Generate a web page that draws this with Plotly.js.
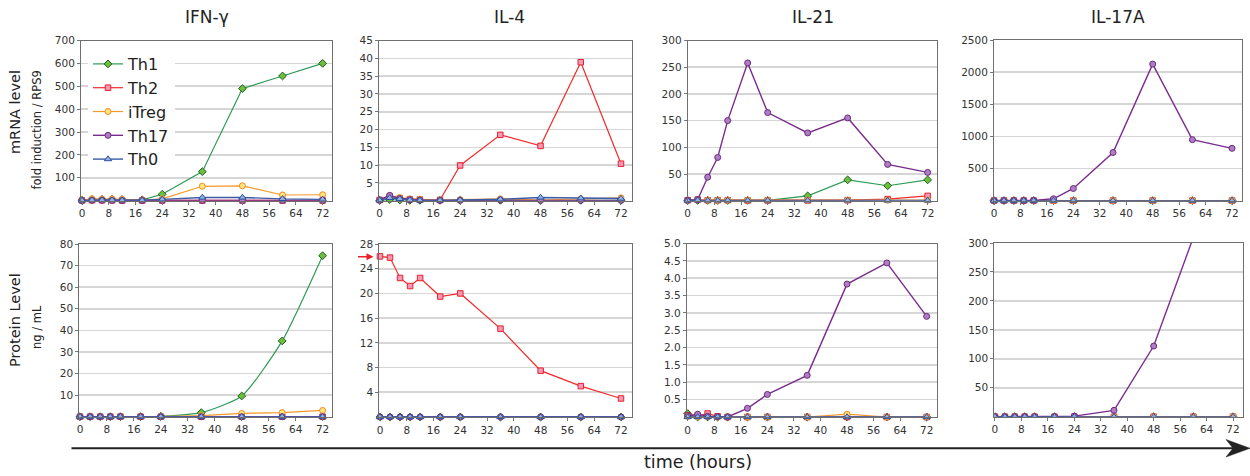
<!DOCTYPE html>
<html>
<head>
<meta charset="utf-8">
<script src="https://cdn.plot.ly/plotly-3.0.1.min.js"></script>
<style>html,body{margin:0;padding:0;background:#fff;}#chart{width:1250px;height:476px;}</style>
</head>
<body>
<div id="chart"></div>
<script>
// ---------- DATA ----------
const times = [0, 3, 6, 9, 12, 18, 24, 36, 48, 60, 72];
const seriesNames = ["Th1", "Th2", "iTreg", "Th17", "Th0"];
const geneTitles = ["IFN-γ", "IL-4", "IL-21", "IL-17A"];
const xTicks = [0, 8, 16, 24, 32, 40, 48, 56, 64, 72];

// mRNA level (fold induction / RPS9)
const ifngMrnaTh1   = [2, 6, 6, 7, 5, 4, 28, 127, 490, 545, 600];
const ifngMrnaTh2   = [1, 2, 2, 2, 1, 1, 1, 1, 1, 1, 1];
const ifngMrnaITreg = [3, 8, 7, 8, 6, 3, 8, 63, 65, 25, 26];
const ifngMrnaTh17  = [1, 2, 2, 1, 1, 1, 1, 1, 1, 1, 1];
const ifngMrnaTh0   = [1, 3, 3, 3, 2, 2, 6, 14, 14, 8, 6];

const il4MrnaTh1   = [0.1, 0.3, 0.2, 0.1, 0.1, 0.1, 0.1, 0.1, 0.1, 0.1, 0.1];
const il4MrnaTh2   = [0.2, 1.2, 0.7, 0.4, 0.3, 0.2, 9.9, 18.5, 15.4, 38.9, 10.4];
const il4MrnaITreg = [0.2, 1.3, 0.9, 0.5, 0.4, 0.2, 0.3, 0.5, 0.2, 0.5, 0.8];
const il4MrnaTh17  = [0.2, 1.5, 0.6, 0.3, 0.2, 0.1, 0.1, 0.2, 0.1, 0.1, 0.1];
const il4MrnaTh0   = [0.1, 0.8, 0.5, 0.2, 0.1, 0.1, 0.2, 0.4, 0.9, 0.7, 0.6];

const il21MrnaTh1   = [0.5, 0.5, 0.5, 0.5, 0.5, 0.5, 0.5, 9, 39, 28, 39];
const il21MrnaTh2   = [1, 2, 1, 1, 1, 0.5, 0.5, 0.5, 1, 3, 9];
const il21MrnaITreg = [1, 2, 1, 1, 1, 1, 1, 1, 1, 1, 1];
const il21MrnaTh17  = [1, 2, 44, 81, 150, 258, 165, 127, 155, 68, 53];
const il21MrnaTh0   = [0.5, 1, 0.5, 0.5, 0.5, 0.5, 0.5, 0.5, 0.5, 0.5, 0.5];

const il17MrnaTh1   = [2, 2, 2, 2, 2, 2, 2, 2, 2, 2, 2];
const il17MrnaTh2   = [2, 3, 2, 2, 2, 2, 2, 2, 2, 2, 2];
const il17MrnaITreg = [3, 3, 3, 3, 3, 3, 3, 3, 3, 3, 3];
const il17MrnaTh17  = [2, 2, 3, 3, 5, 30, 190, 750, 2125, 950, 815];
const il17MrnaTh0   = [1, 1, 1, 1, 1, 1, 1, 1, 1, 1, 1];

// Protein level (ng / mL)
const ifngProtTh1   = [0, 0, 0, 0, 0, 0, 0.2, 1.9, 9.6, 35.1, 74.6];
const ifngProtTh2   = [0, 0, 0, 0, 0, 0, 0, 0, 0, 0, 0];
const ifngProtITreg = [0, 0, 0, 0, 0, 0, 0.1, 0.5, 1.5, 1.9, 2.9];
const ifngProtTh17  = [0, 0, 0, 0, 0, 0, 0, 0, 0, 0, 0];
const ifngProtTh0   = [0, 0, 0, 0, 0, 0, 0, 0, 0, 0, 0];

const il4ProtTh1   = [0, 0, 0, 0, 0, 0, 0, 0, 0, 0, 0];
const il4ProtTh2   = [26, 25.8, 22.5, 21.2, 22.5, 19.5, 20, 14.3, 7.5, 5, 3];
const il4ProtITreg = [0, 0, 0, 0, 0, 0, 0, 0, 0, 0, 0];
const il4ProtTh17  = [0, 0, 0, 0, 0, 0, 0, 0, 0, 0, 0];
const il4ProtTh0   = [0, 0, 0, 0, 0, 0, 0, 0, 0, 0, 0];

const il21ProtTh1   = [0.1, 0, 0, 0, 0, 0, 0, 0, 0, 0, 0];
const il21ProtTh2   = [0.05, 0.03, 0.1, 0.02, 0, 0, 0, 0, 0, 0, 0];
const il21ProtITreg = [0.02, 0.01, 0.01, 0, 0, 0, 0, 0, 0.08, 0, 0];
const il21ProtTh17  = [0.03, 0.08, 0.02, 0.01, 0, 0.25, 0.65, 1.2, 3.83, 4.44, 2.9];
const il21ProtTh0   = [0, 0, 0, 0, 0, 0, 0, 0, 0, 0, 0];

const il17ProtTh1   = [0, 0, 0, 0, 0, 0, 0, 0, 0, 0, 0];
const il17ProtTh2   = [0, 0, 0, 0, 0, 0, 0, 0, 0, 0, 0];
const il17ProtITreg = [0, 0, 0, 0, 0, 0, 0, 0, 0, 0, 0];
const il17ProtTh17  = [0, 0, 0, 0, 0, 0, 1, 11, 122, 310, 450];
const il17ProtTh0   = [0, 0, 0, 0, 0, 0, 0, 0, 0, 0, 0];

// y tick labels
const ticksIfngMrna = [100, 200, 300, 400, 500, 600, 700];
const ticksIl4Mrna  = [5, 10, 15, 20, 25, 30, 35, 40, 45];
const ticksIl21Mrna = [50, 100, 150, 200, 250, 300];
const ticksIl17Mrna = [500, 1000, 1500, 2000, 2500];
const ticksIfngProt = [10, 20, 30, 40, 50, 60, 70, 80];
const ticksIl4Prot  = [4, 8, 12, 16, 20, 24, 28];
const ticksIl21Prot = [0.5, 1.0, 1.5, 2.0, 2.5, 3.0, 3.5, 4.0, 4.5, 5.0];
const ticksIl17Prot = [50, 100, 150, 200, 250, 300];

// ---------- STYLE ----------
const W = 1250, H = 476;
const FONT = "DejaVu Sans, Verdana, sans-serif";
const styles = [
  {line: "#2e9a57", fill: "#6cbf3c", edge: "#1f5f1f", symbol: "diamond", size: 6},
  {line: "#f22a2a", fill: "#f598b8", edge: "#e8202a", symbol: "square", size: 5.5},
  {line: "#f59a2a", fill: "#ffe680", edge: "#f5891f", symbol: "circle", size: 6},
  {line: "#7b2d8e", fill: "#b07cc6", edge: "#6a2a7a", symbol: "circle", size: 6},
  {line: "#3a5ba8", fill: "#8fb4e3", edge: "#2f4f9f", symbol: "triangle-up", size: 6.5}
];

const panels = [
  {box: [81, 40.5, 332, 200.7], xr: [-0.3, 74.8], yr: [0, 700], yt: ticksIfngMrna, fmt: "",
   s: [ifngMrnaTh1, ifngMrnaTh2, ifngMrnaITreg, ifngMrnaTh17, ifngMrnaTh0]},
  {box: [379, 40.5, 631.7, 200.7], xr: [-0.2, 75.2], yr: [0, 45], yt: ticksIl4Mrna, fmt: "",
   s: [il4MrnaTh1, il4MrnaTh2, il4MrnaITreg, il4MrnaTh17, il4MrnaTh0]},
  {box: [687.7, 40.5, 937.3, 200.7], xr: [0, 74.9], yr: [0, 300], yt: ticksIl21Mrna, fmt: "",
   s: [il21MrnaTh1, il21MrnaTh2, il21MrnaITreg, il21MrnaTh17, il21MrnaTh0]},
  {box: [994, 40, 1242.3, 200.7], xr: [0, 75.1], yr: [0, 2500], yt: ticksIl17Mrna, fmt: "",
   s: [il17MrnaTh1, il17MrnaTh2, il17MrnaITreg, il17MrnaTh17, il17MrnaTh0]},
  {box: [79.3, 244, 331.7, 416.7], xr: [-0.2, 74.7], yr: [0, 80], yt: ticksIfngProt, fmt: "", spline: true,
   s: [ifngProtTh1, ifngProtTh2, ifngProtITreg, ifngProtTh17, ifngProtTh0]},
  {box: [379.3, 244, 631.7, 417], xr: [-0.2, 75.2], yr: [0, 28], yt: ticksIl4Prot, fmt: "",
   s: [il4ProtTh1, il4ProtTh2, il4ProtITreg, il4ProtTh17, il4ProtTh0]},
  {box: [686.7, 243.5, 937.3, 417], xr: [-0.3, 75.2], yr: [0, 5], yt: ticksIl21Prot, fmt: ".1f",
   s: [il21ProtTh1, il21ProtTh2, il21ProtITreg, il21ProtTh17, il21ProtTh0]},
  {box: [994.3, 243, 1243.3, 416.7], xr: [-0.2, 75.1], yr: [0, 300], yt: ticksIl17Prot, fmt: "", clip: true,
   s: [il17ProtTh1, il17ProtTh2, il17ProtITreg, il17ProtTh17, il17ProtTh0]}
];

const px = v => v / W;
const py = v => 1 - v / H;

const traces = [];
const layout = {
  width: W, height: H,
  margin: {l: 0, r: 0, t: 0, b: 0},
  paper_bgcolor: "#fff", plot_bgcolor: "#fff",
  font: {family: FONT, color: "#333", size: 10.5},
  showlegend: true,
  legend: {
    x: px(88), y: py(47), xanchor: "left", yanchor: "top",
    bgcolor: "#fff", borderwidth: 0,
    font: {family: FONT, size: 16, color: "#222"},
    tracegroupgap: 0, itemwidth: 30
  },
  annotations: [], shapes: []
};

panels.forEach((p, i) => {
  const k = i + 1;
  const xa = "xaxis" + (k === 1 ? "" : k), ya = "yaxis" + (k === 1 ? "" : k);
  const [l, t, r, b] = p.box;
  layout[xa] = {
    domain: [px(l), px(r)], range: p.xr, anchor: "y" + k,
    tickvals: xTicks, ticks: "outside", ticklen: 3, tickcolor: "#777",
    showgrid: false, zeroline: false,
    showline: true, mirror: true, linecolor: "#6f6f6f", linewidth: 1,
    tickfont: {family: FONT, size: 10.5, color: "#333"}, fixedrange: true
  };
  layout[ya] = {
    domain: [py(b), py(t)], range: p.yr, anchor: "x" + k,
    tickvals: p.yt, tickformat: p.fmt, ticks: "outside", ticklen: 3, tickcolor: "#777",
    showgrid: true, gridcolor: "#d6d6d6", gridwidth: 1.6, zeroline: false,
    showline: true, mirror: true, linecolor: "#6f6f6f", linewidth: 1,
    tickfont: {family: FONT, size: 10.5, color: "#333"}, fixedrange: true
  };
  p.s.forEach((vals, j) => {
    const st = styles[j];
    traces.push({
      type: "scatter", mode: "lines+markers",
      x: times, y: vals,
      xaxis: "x" + k, yaxis: "y" + k,
      name: seriesNames[j], legendgroup: seriesNames[j],
      showlegend: i === 0,
      cliponaxis: !!p.clip,
      line: {color: st.line, width: (j >= 3 ? 1.4 : 1.2), shape: (p.spline && j === 0) ? "spline" : "linear", smoothing: 0.6},
      marker: {symbol: st.symbol, size: st.size, color: st.fill, line: {color: st.edge, width: 1}}
    });
  });
  if (i < 4) {
    const cx = i === 1 ? 510 : (l + r) / 2;
    layout.annotations.push({
      xref: "paper", yref: "paper", x: px(cx), y: py(17), xanchor: "center", yanchor: "middle",
      text: geneTitles[i], showarrow: false, font: {family: FONT, size: 17, color: "#222"}
    });
  }
});

// y-axis titles
const yTitles = [
  {text: "mRNA level", x: 15, y: 112, size: 14.5},
  {text: "fold induction / RPS9", x: 36.5, y: 130, size: 11.5},
  {text: "Protein Level", x: 15, y: 320, size: 14.5},
  {text: "ng / mL", x: 37, y: 327, size: 11.5}
];
yTitles.forEach(a => layout.annotations.push({
  xref: "paper", yref: "paper", x: px(a.x), y: py(a.y), xanchor: "center", yanchor: "middle",
  text: a.text, textangle: -90, showarrow: false, font: {family: FONT, size: a.size, color: "#222"}
}));

// time axis label
layout.annotations.push({
  xref: "paper", yref: "paper", x: px(697.5), y: py(462), xanchor: "center", yanchor: "middle",
  text: "time (hours)", showarrow: false, font: {family: FONT, size: 17.5, color: "#222"}
});

// red arrow pointing at initial IL-4 protein level
layout.annotations.push({
  xref: "paper", yref: "paper", x: px(373.5), y: py(256.7), ax: -17, ay: 0,
  showarrow: true, arrowhead: 2, arrowsize: 1, arrowwidth: 1.4, arrowcolor: "#e8202a", text: ""
});

// long time arrow
layout.shapes.push({
  type: "line", xref: "paper", yref: "paper",
  x0: px(71.5), x1: px(1234), y0: py(448.3), y1: py(448.3),
  line: {color: "#222", width: 2}
});
layout.shapes.push({
  type: "path", xref: "paper", yref: "paper",
  path: `M ${px(1226)} ${py(439.5)} L ${px(1250)} ${py(448.3)} L ${px(1226)} ${py(457)} L ${px(1233)} ${py(448.3)} Z`,
  fillcolor: "#222", line: {color: "#222", width: 0.5}
});

// white gaps in gridlines (as in the reference picture)
const gaps = [
  [418.3, 72, 447.3, 98], [880.7, 62, 911, 98], [1039.3, 66, 1069, 76],
  [119, 283, 147.7, 314], [549, 289, 578.7, 324], [735.3, 290, 765, 318], [1033, 296, 1063, 306]
];
gaps.forEach(g => layout.shapes.push({
  type: "rect", xref: "paper", yref: "paper", layer: "between",
  x0: px(g[0]), x1: px(g[2]), y0: py(g[3]), y1: py(g[1]),
  fillcolor: "#fff", line: {width: 0}
}));

Plotly.newPlot("chart", traces, layout, {displayModeBar: false, staticPlot: true});
</script>
</body>
</html>
